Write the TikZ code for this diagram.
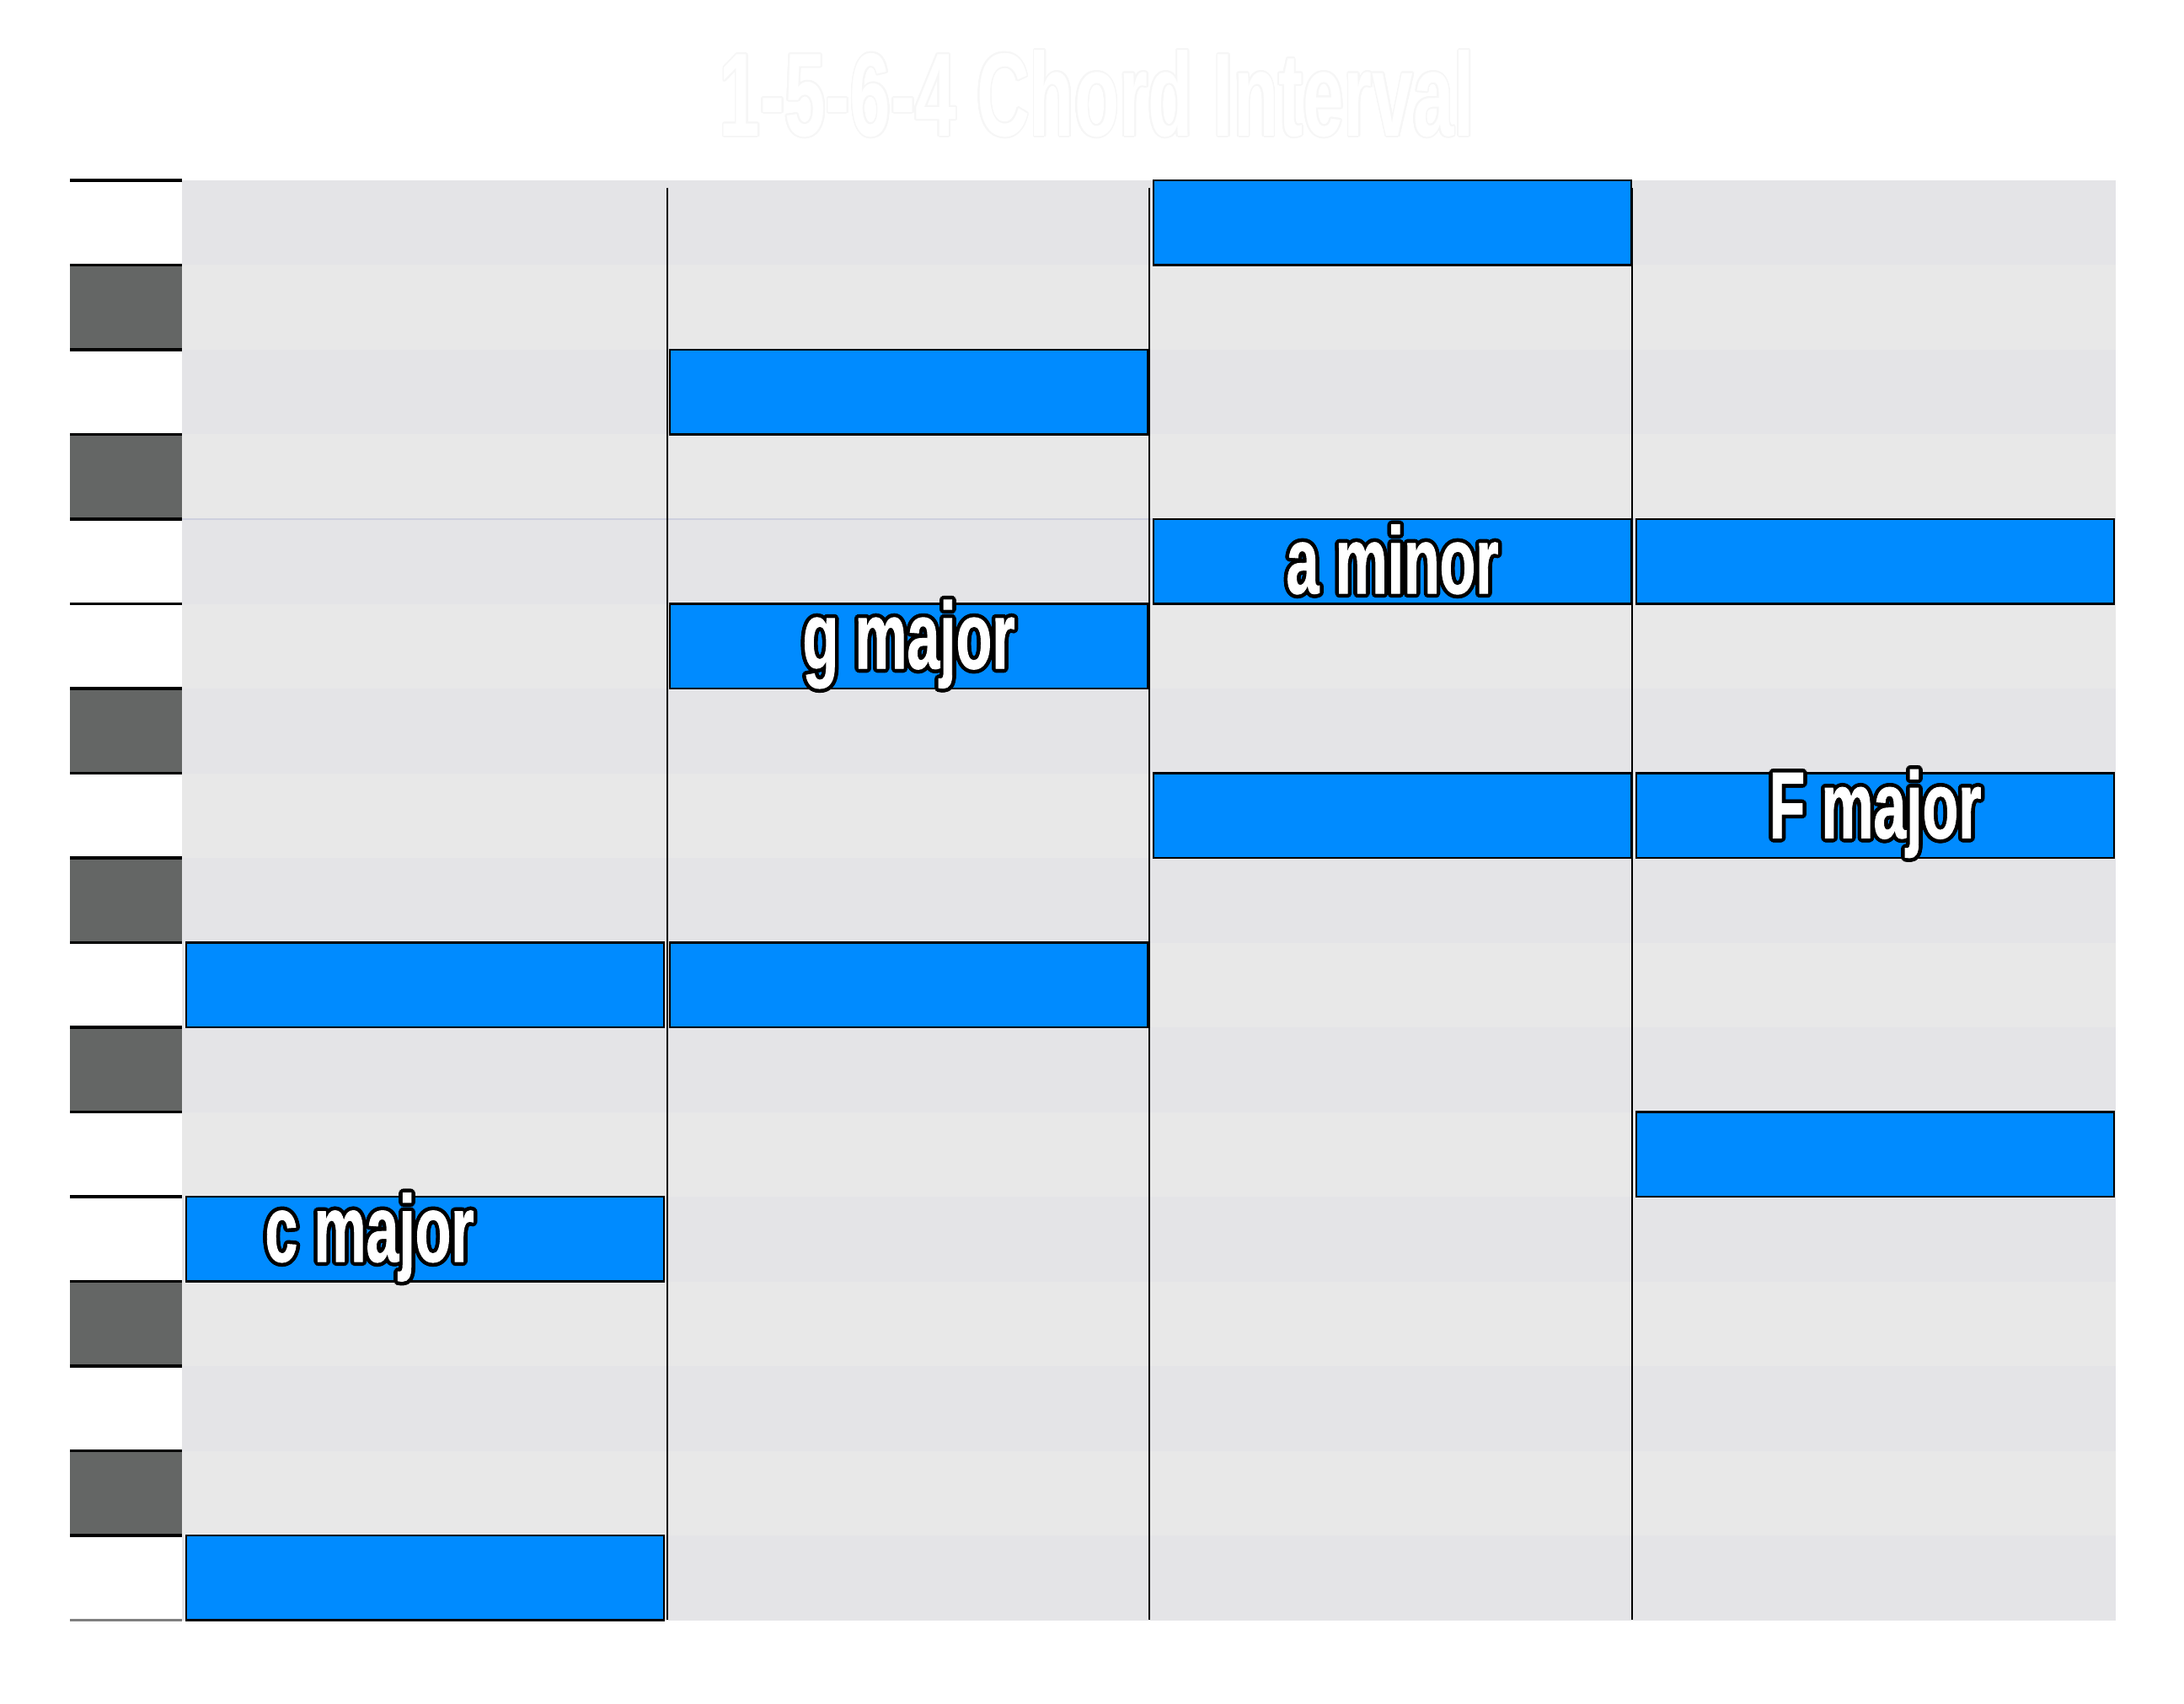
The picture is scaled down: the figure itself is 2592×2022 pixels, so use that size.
\documentclass[tikz,border=0pt]{standalone}
\usepackage{fontspec}
\setmainfont{Liberation Sans}
\newfontfamily\chordfont[FakeStretch=0.62, FakeBold=0.8]{Liberation Sans Bold}
\newfontfamily\headfont[FakeStretch=0.62]{Liberation Sans Bold}
\usepackage[copies]{contour}
\contourlength{1.3pt}
\usetikzlibrary{positioning}
\definecolor{notefill}{RGB}{0,139,255}
\definecolor{keyfill}{RGB}{100,102,101}
\definecolor{stripeA}{RGB}{228,228,231}
\definecolor{stripeB}{RGB}{232,232,232}
\definecolor{midline}{RGB}{206,208,222}
\definecolor{ghost}{RGB}{246,246,246}

\begin{document}
\begin{tikzpicture}[
    x=0.1mm, y=-0.1mm,
    note/.style ={draw=black, line width=0.8pt, fill=notefill, anchor=north west,
                  inner sep=0pt, outer sep=0pt, minimum width=56.7mm,
                  minimum height=10.05mm},
    chord/.style={font=\chordfont\fontsize{32}{34}\selectfont, text=white,
                  inner sep=0pt},
    title/.style={font=\headfont\fontsize{40}{44}\selectfont, text=white,
                  inner sep=0pt},
    keyline/.style={line width=1.1pt, black},
    sep/.style  ={line width=0.8pt, black},
]
\useasboundingbox (0,0) rectangle (2592,2022);
\fill[white] (0,0) rectangle (2592,2022);

% background rows and keyboard
\foreach \r [evaluate=\r as \yt using 214+100.5*\r] in {0,...,16} {
  \ifodd\r
    \fill[stripeB] (216,\yt) rectangle (2511,\yt+100.5);
  \else
    \fill[stripeA] (216,\yt) rectangle (2511,\yt+100.5);
  \fi
}
\foreach \r [evaluate=\r as \yt using 214+100.5*\r] in {1,3,6,8,10,13,15} {
  \fill[keyfill] (83,\yt) rectangle (216,\yt+100.5);
  \draw[keyline] (83,\yt) -- (216,\yt);
  \draw[keyline] (83,\yt+100.5) -- (216,\yt+100.5);
}
\draw[keyline] (83,214) -- (216,214);
\draw[keyline] (83,716.5) -- (216,716.5);
\draw[keyline] (83,1420) -- (216,1420);
\draw[keyline, gray] (83,1922.5) -- (216,1922.5);
\draw[midline, line width=0.6pt] (216,616) -- (2511,616);

% column separators
\draw[sep] (792,223) -- (792,1922);
\draw[sep] (1364,223) -- (1364,1922);
\draw[sep] (1937,223) -- (1937,1922);

% chord notes
\node[note] (c-root)  at (221,1822) {};
\node[note] (c-third) at (221,1420) {};
\node[note] (c-fifth) at (221,1118.5) {};
\node[note] (g-root)  at (795,1118.5) {};
\node[note] (g-third) at (795,716.5) {};
\node[note] (g-fifth) at (795,415) {};
\node[note] (a-root)  at (1369,917.5) {};
\node[note] (a-third) at (1369,616) {};
\node[note] (a-fifth) at (1369,214) {};
\node[note] (f-root)  at (1942,1319.5) {};
\node[note] (f-third) at (1942,917.5) {};
\node[note] (f-fifth) at (1942,616) {};

% chord names
\node[chord, xshift=-6.6mm] (c-name) at (c-third) {\contour{black}{c major}};
\node[chord] (g-name) at (g-third) {\contour{black}{g major}};
\node[chord] (a-name) at (a-third) {\contour{black}{a minor}};
\node[chord] (f-name) at (f-third) {\contour{black}{F major}};

\node[title] (head) at (1302,112)
  {\contourlength{0.5pt}\contour{ghost}{1-5-6-4 Chord Interval}};
\end{tikzpicture}
\end{document}
